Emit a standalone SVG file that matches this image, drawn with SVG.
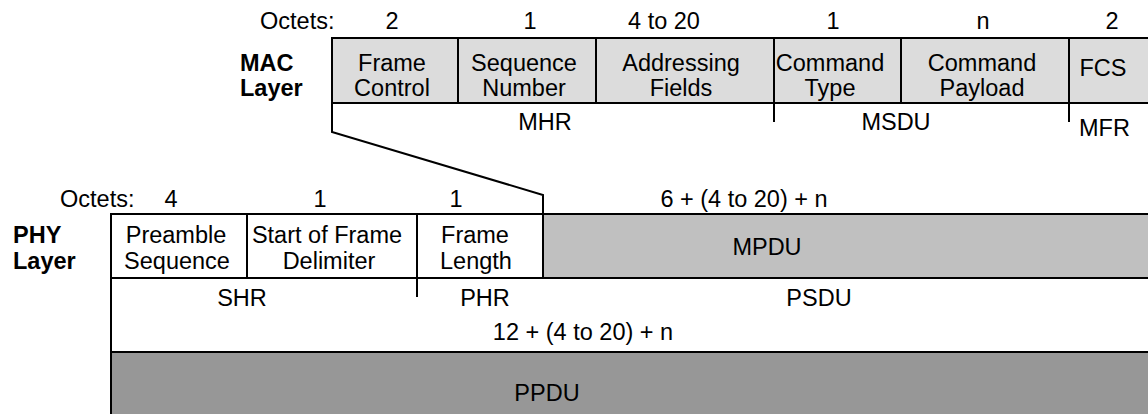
<svg xmlns="http://www.w3.org/2000/svg" width="1148" height="414" viewBox="0 0 1148 414">
<style>
text{font-family:"Liberation Sans",Arial,sans-serif;font-size:23.5px;fill:#000}
.m{text-anchor:middle}
.b{font-weight:bold}
.ln{stroke:#000;stroke-width:2;fill:none}
.mac{fill:#dcdcdc;stroke:#000;stroke-width:2}
.wh{fill:#fff;stroke:#000;stroke-width:2}
.mpdu{fill:#c0c0c0;stroke:#000;stroke-width:2}
.ppdu{fill:#979797;stroke:#000;stroke-width:2}
</style>
<rect width="1148" height="414" fill="#fff"/>
<g id="mac-layer">
<text x="260" y="29">Octets:</text>
<text class="m" x="392" y="29">2</text>
<text class="m" x="530" y="29">1</text>
<text class="m" x="664" y="29">4 to 20</text>
<text class="m" x="833" y="29">1</text>
<text class="m" x="983" y="29">n</text>
<text class="m" x="1112" y="29">2</text>
<text class="b" x="240" y="71">MAC</text>
<text class="b" x="240" y="96">Layer</text>
</g>
<g id="frame-control"><rect class="mac" x="332" y="38" width="126" height="65"/><text class="m" x="392" y="71">Frame</text><text class="m" x="392" y="96">Control</text></g>
<g id="sequence-number"><rect class="mac" x="458" y="38" width="138" height="65"/><text class="m" x="524" y="71">Sequence</text><text class="m" x="524" y="96">Number</text></g>
<g id="addressing-fields"><rect class="mac" x="596" y="38" width="178" height="65"/><text class="m" x="681" y="71">Addressing</text><text class="m" x="681" y="96">Fields</text></g>
<g id="command-type"><rect class="mac" x="774" y="38" width="127" height="65"/><text class="m" x="830" y="71">Command</text><text class="m" x="830" y="96">Type</text></g>
<g id="command-payload"><rect class="mac" x="901" y="38" width="168" height="65"/><text class="m" x="982" y="71">Command</text><text class="m" x="982" y="96">Payload</text></g>
<g id="fcs"><rect class="mac" x="1069" y="38" width="100" height="65"/><text class="m" x="1103" y="76">FCS</text></g>
<g id="mac-labels">
<text class="m" x="545" y="130">MHR</text>
<text class="m" x="896" y="130">MSDU</text>
<text x="1079" y="136">MFR</text>
</g>
<g id="phy-layer">
<text x="60" y="207">Octets:</text>
<text class="m" x="171" y="207">4</text>
<text class="m" x="320" y="207">1</text>
<text class="m" x="456" y="207">1</text>
<text class="m" x="744" y="207">6 + (4 to 20) + n</text>
<text class="b" x="13" y="243">PHY</text>
<text class="b" x="13" y="269">Layer</text>
</g>
<g id="ppdu"><rect class="ppdu" x="111" y="352" width="1060" height="80"/><text class="m" x="547" y="401">PPDU</text></g>
<g id="preamble"><rect class="wh" x="111" y="214" width="136" height="64"/><text class="m" x="176" y="243">Preamble</text><text class="m" x="177" y="269">Sequence</text></g>
<g id="sfd"><rect class="wh" x="247" y="214" width="170" height="64"/><text class="m" x="327" y="243">Start of Frame</text><text class="m" x="329" y="269">Delimiter</text></g>
<g id="frame-length"><rect class="wh" x="417" y="214" width="126" height="64"/><text class="m" x="475" y="243">Frame</text><text class="m" x="476" y="269">Length</text></g>
<g id="mpdu"><rect class="mpdu" x="543" y="214" width="630" height="64"/><text class="m" x="767" y="255">MPDU</text></g>
<g id="phy-labels">
<text class="m" x="242" y="306">SHR</text>
<text class="m" x="485" y="306">PHR</text>
<text class="m" x="819" y="306">PSDU</text>
<text class="m" x="583" y="340">12 + (4 to 20) + n</text>
</g>
<g id="connectors">
<polyline class="ln" points="332,103 332,132 543,195 543,214"/>
<line class="ln" x1="774" y1="103" x2="774" y2="122"/>
<line class="ln" x1="1069" y1="103" x2="1069" y2="122"/>
<line class="ln" x1="417" y1="278" x2="417" y2="297"/>
<line class="ln" x1="111" y1="278" x2="111" y2="414"/>
</g>
</svg>
